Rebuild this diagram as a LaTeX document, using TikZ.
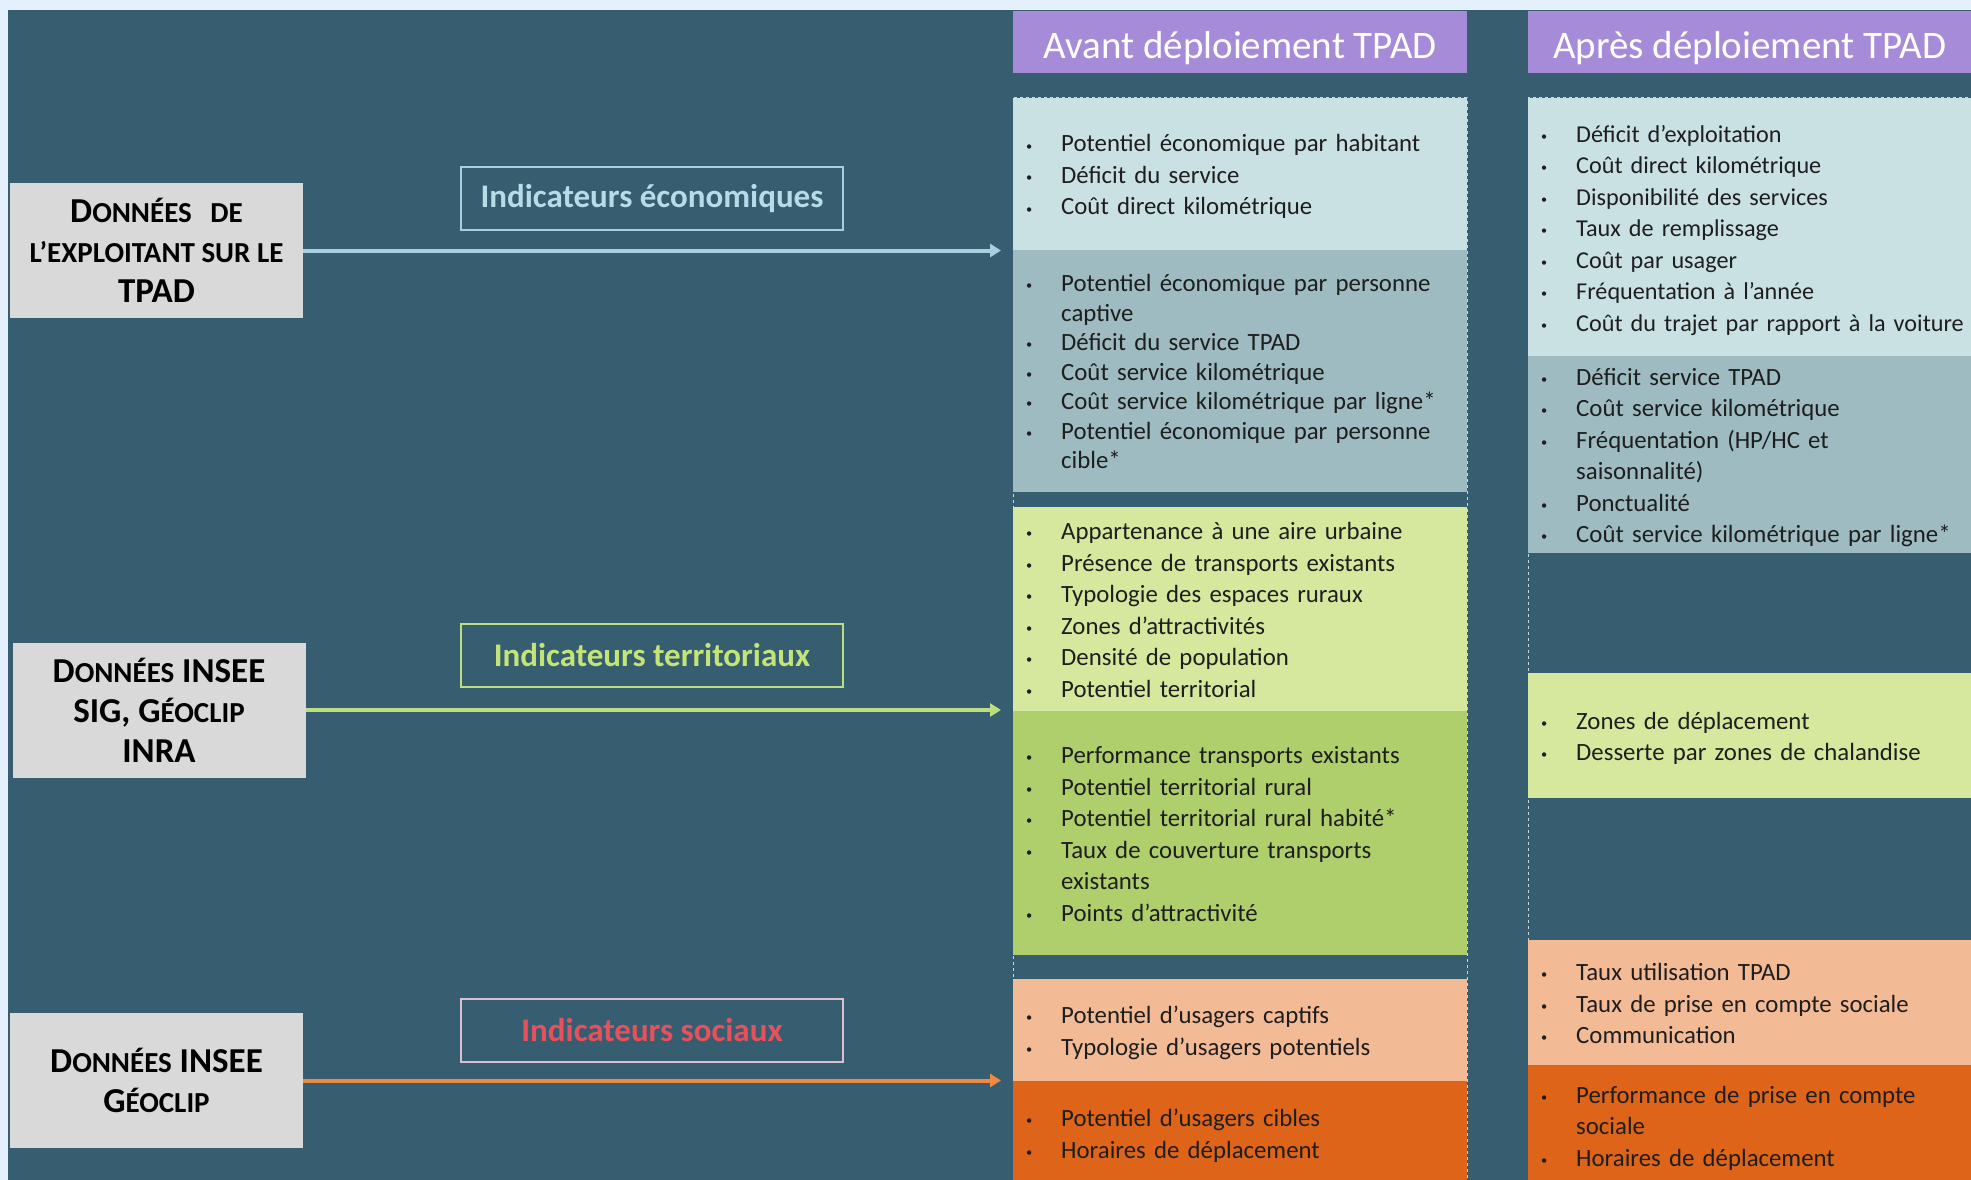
\documentclass[tikz,border=0pt]{standalone}
\usepackage{fontspec}
\setmainfont{Carlito}
\usetikzlibrary{arrows.meta}
\definecolor{framelight}{RGB}{228,241,252}
\definecolor{bgdark}{RGB}{54,94,112}
\definecolor{srcgrey}{RGB}{217,217,217}
\definecolor{headpurple}{RGB}{166,140,216}
\definecolor{textdark}{RGB}{30,30,30}
\definecolor{ecolight}{RGB}{202,225,228}
\definecolor{ecodark}{RGB}{157,187,192}
\definecolor{terlight}{RGB}{214,232,158}
\definecolor{terdark}{RGB}{175,207,108}
\definecolor{soclight}{RGB}{243,186,150}
\definecolor{socdark}{RGB}{221,100,24}
\definecolor{ecoarrow}{RGB}{166,208,222}
\definecolor{terarrow}{RGB}{186,222,128}
\definecolor{socarrow}{RGB}{240,137,66}
\definecolor{ecolabel}{RGB}{183,220,232}
\definecolor{terlabel}{RGB}{196,228,120}
\definecolor{soclabel}{RGB}{232,80,92}
\definecolor{socframe}{RGB}{220,192,210}
\newcommand{\smc}[1]{{\fontsize{29}{40}\selectfont #1}}
\newcommand{\bul}{\raisebox{0.08em}{\scalebox{0.5}{\textbullet}}}
\newcommand{\blist}[1]{\noindent\raisebox{-3pt}[\height][\depth]{\begin{tabular}{@{}p{35pt}@{}l@{}}#1\end{tabular}}}
\newcommand{\headtxt}[1]{\raisebox{-6pt}[\height][\depth]{#1}}

\begin{document}
\begin{tikzpicture}[x=1pt,y=-1pt,
  srcbox/.style={fill=srcgrey, minimum width=293pt, minimum height=135pt, inner sep=0pt,
    align=center, text=black, font=\bfseries\fontsize{35}{40}\selectfont},
  indbox/.style={draw, line width=2pt, minimum width=382pt, minimum height=63pt,
    font=\bfseries\fontsize{33}{38}\selectfont},
  headbox/.style={fill=headpurple, text=white, anchor=north west, minimum height=62pt,
    inner sep=0pt, font=\fontsize{39}{47}\selectfont},
  listbox/.style={anchor=north west, inner xsep=13pt, inner ysep=0pt, align=left,
    text=textdark, font=\fontsize{24.8}{31.5}\selectfont},
  colframe/.style={draw=white!75!bgdark, dashed, line width=1pt},
  flow/.style={line width=4pt, -{Triangle[length=11pt,width=13pt]}, shorten >=12pt}]
\useasboundingbox (0,0) rectangle (1971,1180);
\fill[framelight] (0,0) rectangle (1971,1180);
\fill[bgdark] (8,10) rectangle (1971,1180);

% column frames
\draw[colframe] (1013,98) rectangle (1467,1185);
\draw[colframe] (1528,98) rectangle (1975,1185);

% headers
\node[headbox, minimum width=454pt] (avh) at (1013,11) {\headtxt{Avant déploiement TPAD}};
\node[headbox, minimum width=443pt] (aph) at (1528,11) {\headtxt{Après déploiement TPAD}};

% avant
\node[listbox, fill=ecolight, text width=428pt, minimum height=152pt] (av1) at (1013,98)
  {\blist{\bul & Potentiel économique par habitant\\
  \bul & Déficit du service\\
  \bul & Coût direct kilométrique}};
\node[listbox, fill=ecodark, text width=428pt, minimum height=242pt,
  font=\fontsize{24.8}{29.5}\selectfont] (av2) at (1013,250)
  {\blist{\bul & Potentiel économique par personne\\
  & captive\\
  \bul & Déficit du service TPAD\\
  \bul & Coût service kilométrique\\
  \bul & Coût service kilométrique par ligne*\\
  \bul & Potentiel économique par personne\\
  & cible*}};
\node[listbox, fill=terlight, text width=428pt, minimum height=204pt] (av3) at (1013,507)
  {\blist{\bul & Appartenance à une aire urbaine\\
  \bul & Présence de transports existants\\
  \bul & Typologie des espaces ruraux\\
  \bul & Zones d’attractivités\\
  \bul & Densité de population\\
  \bul & Potentiel territorial}};
\node[listbox, fill=terdark, text width=428pt, minimum height=244pt] (av4) at (1013,711)
  {\blist{\bul & Performance transports existants\\
  \bul & Potentiel territorial rural\\
  \bul & Potentiel territorial rural habité*\\
  \bul & Taux de couverture transports\\
  & existants\\
  \bul & Points d’attractivité}};
\node[listbox, fill=soclight, text width=428pt, minimum height=102pt] (av5) at (1013,979)
  {\blist{\bul & Potentiel d'usagers captifs\\
  \bul & Typologie d’usagers potentiels}};
\node[listbox, fill=socdark, text width=428pt, minimum height=104pt] (av6) at (1013,1081)
  {\blist{\bul & Potentiel d'usagers cibles\\
  \bul & Horaires de déplacement}};

% apres
\node[listbox, fill=ecolight, text width=417pt, minimum height=258pt,
  font=\fontsize{24.2}{31.5}\selectfont] (ap1) at (1528,98)
  {\blist{\bul & Déficit d’exploitation\\
  \bul & Coût direct kilométrique\\
  \bul & Disponibilité des services\\
  \bul & Taux de remplissage\\
  \bul & Coût par usager\\
  \bul & Fréquentation à l’année\\
  \bul & Coût du trajet par rapport à la voiture}};
\node[listbox, fill=ecodark, text width=417pt, minimum height=197pt] (ap2) at (1528,356)
  {\blist{\bul & Déficit service TPAD\\
  \bul & Coût service kilométrique\\
  \bul & Fréquentation (HP/HC et\\
  & saisonnalité)\\
  \bul & Ponctualité\\
  \bul & Coût service kilométrique par ligne*}};
\node[listbox, fill=terlight, text width=417pt, minimum height=125pt] (ap3) at (1528,673)
  {\blist{\bul & Zones de déplacement\\
  \bul & Desserte par zones de chalandise}};
\node[listbox, fill=soclight, text width=417pt, minimum height=125pt] (ap4) at (1528,940)
  {\blist{\bul & Taux utilisation TPAD\\
  \bul & Taux de prise en compte sociale\\
  \bul & Communication}};
\node[listbox, fill=socdark, text width=417pt, minimum height=120pt] (ap5) at (1528,1065)
  {\blist{\bul & Performance de prise en compte\\
  & sociale\\
  \bul & Horaires de déplacement}};

% sources
\node[srcbox] (src1) at (156.5,250.5) {D\smc{ONNÉES\hspace{12pt} DE}\\ \smc{L’EXPLOITANT SUR LE}\\ TPAD};
\node[srcbox] (src2) at (159,710) {D\smc{ONNÉES} INSEE\\ SIG, G\smc{ÉOCLIP}\\ INRA};
\node[srcbox] (src3) at (156.5,1080.5) {D\smc{ONNÉES} INSEE\\ G\smc{ÉOCLIP}};

% indicateurs
\node[indbox, draw=ecoarrow, text=ecolabel] (ieco) at (652,198.5) {Indicateurs économiques};
\node[indbox, draw=terarrow, text=terlabel] (iter) at (652,655.5) {Indicateurs territoriaux};
\node[indbox, draw=socframe, text=soclabel] (isoc) at (652,1030.5) {Indicateurs sociaux};

\draw[flow, ecoarrow] (src1.east) -- (src1.east -| av1.west);
\draw[flow, terarrow] (src2.east) -- (src2.east -| av3.west);
\draw[flow, socarrow] (src3.east) -- (src3.east -| av5.west);
\end{tikzpicture}
\end{document}
